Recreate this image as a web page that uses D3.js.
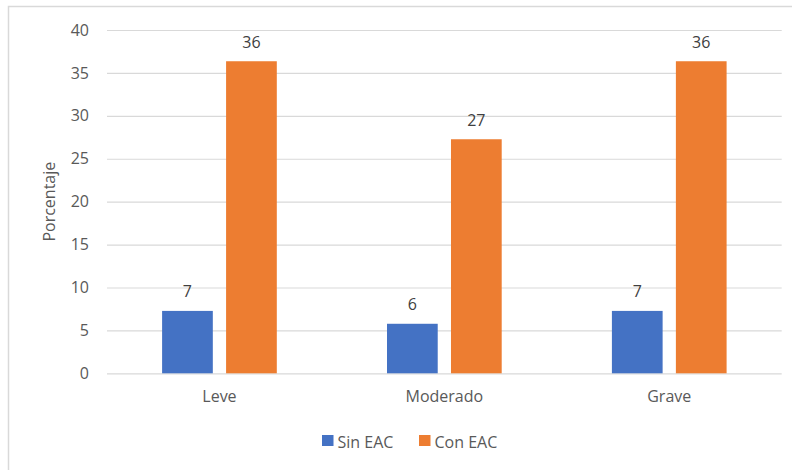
<!DOCTYPE html>
<html>
<head>
<meta charset="utf-8">
<script src="https://cdn.jsdelivr.net/npm/d3@7"></script>
<style>
  html, body { margin: 0; padding: 0; background: #fff; }
  svg { display: block; font-family: "Open Sans", "Noto Sans", sans-serif; }
</style>
</head>
<body>
<svg id="chart" width="792" height="470"></svg>
<script>
// Categories and series (percentages)
const categories = ["Leve", "Moderado", "Grave"];
const seriesNames = ["Sin EAC", "Con EAC"];
const sinEAC = [7.27, 5.77, 7.27];
const conEAC = [36.36, 27.27, 36.36];
const yTicks = [0, 5, 10, 15, 20, 25, 30, 35, 40];
const colors = ["#4472C4", "#ED7D31"];

const svg = d3.select("#chart");
const W = 792, H = 470;
const plot = { left: 107, right: 781.7, top: 30, bottom: 373.3 };

// Outer chart frame (only top and left edges fall inside the canvas)
svg.append("rect")
  .attr("x", 8.5).attr("y", 6.5)
  .attr("width", W + 10).attr("height", H + 10)
  .attr("fill", "none").attr("stroke", "#d9d9d9").attr("stroke-width", 1.5);

const x = d3.scaleBand().domain(categories).range([plot.left, plot.right]).padding(0);
const y = d3.scaleLinear().domain([0, 40]).range([plot.bottom, plot.top]);

const band = x.bandwidth();
const barW = band * 0.2255;
const gap = band * 0.059;
const groupW = barW * 2 + gap;
const xs = d3.scaleOrdinal().domain(seriesNames).range([0, barW + gap]);

// Gridlines and tick labels
const yAxis = d3.axisLeft(y).tickValues(yTicks).tickSize(-(plot.right - plot.left)).tickPadding(18);
const gy = svg.append("g").attr("transform", `translate(${plot.left},0)`).call(yAxis);
gy.select(".domain").remove();
gy.selectAll(".tick line").attr("stroke", "#d9d9d9").attr("stroke-width", 1.2);
gy.selectAll(".tick text")
  .attr("fill", "#595959").attr("font-size", 16)
  .attr("font-family", "'Open Sans', 'Noto Sans', sans-serif");

// Category axis labels
const xAxis = d3.axisBottom(x).tickSize(0).tickPadding(17);
const gx = svg.append("g").attr("transform", `translate(0,${plot.bottom})`).call(xAxis);
gx.select(".domain").remove();
gx.selectAll(".tick text")
  .attr("fill", "#595959").attr("font-size", 16)
  .attr("font-family", "'Open Sans', 'Noto Sans', sans-serif");

// Y axis title
svg.append("text")
  .attr("transform", `translate(55,${(plot.top + plot.bottom) / 2}) rotate(-90)`)
  .attr("text-anchor", "middle")
  .attr("fill", "#595959").attr("font-size", 16)
  .text("Porcentaje");

// Bars
const rows = categories.map((c, i) => ({
  cat: c,
  values: [
    { name: seriesNames[0], v: sinEAC[i], color: colors[0] },
    { name: seriesNames[1], v: conEAC[i], color: colors[1] }
  ]
}));

const fmt = d3.format(".0f");
const groups = svg.append("g").selectAll("g").data(rows).join("g")
  .attr("transform", d => `translate(${x(d.cat) + band / 2 - groupW / 2},0)`);

groups.selectAll("rect").data(d => d.values).join("rect")
  .attr("x", d => xs(d.name))
  .attr("y", d => y(d.v))
  .attr("width", barW)
  .attr("height", d => y(0) - y(d.v))
  .attr("fill", d => d.color);

groups.selectAll("text.lbl").data(d => d.values).join("text")
  .attr("class", "lbl")
  .attr("x", d => xs(d.name) + barW / 2)
  .attr("y", d => y(d.v) - 13.5)
  .attr("text-anchor", "middle")
  .attr("fill", "#404040").attr("font-size", 16)
  .text(d => fmt(d.v));

// Legend
const legendItems = [
  { name: seriesNames[0], color: colors[0], x: 322 },
  { name: seriesNames[1], color: colors[1], x: 419 }
];
const lg = svg.append("g").selectAll("g").data(legendItems).join("g")
  .attr("transform", d => `translate(${d.x},435)`);
lg.append("rect").attr("width", 11.5).attr("height", 11).attr("fill", d => d.color);
lg.append("text")
  .attr("x", 15.5).attr("y", 12.5)
  .attr("fill", "#595959").attr("font-size", 16)
  .text(d => d.name);
</script>
</body>
</html>
